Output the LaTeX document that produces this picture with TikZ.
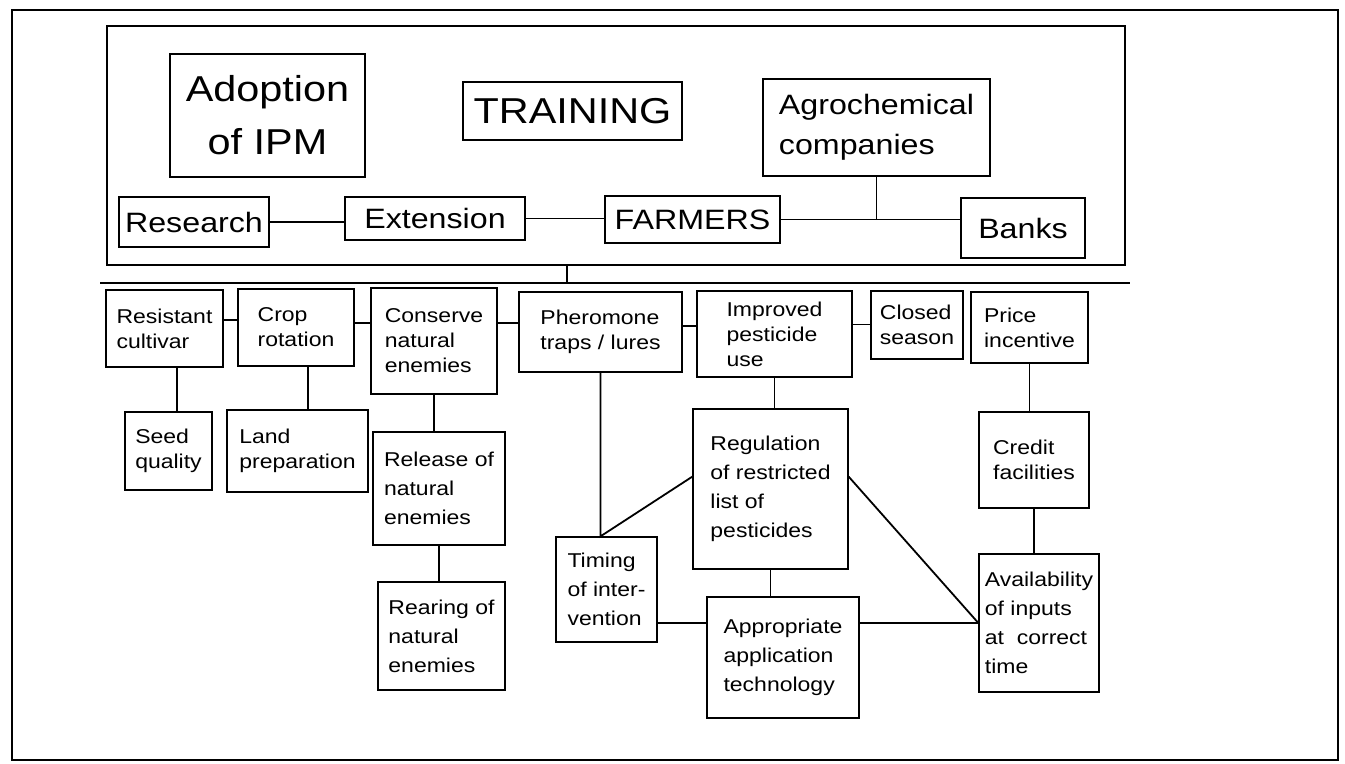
\documentclass[tikz,border=0pt]{standalone}
\usepackage{fontspec}
\setmainfont{Liberation Sans}[FakeStretch=1.15]
\tikzset{
  box/.style={draw, line width=0.65pt, align=left, inner sep=1.5pt,
    font=\fontsize{10}{12.5}\selectfont},
  loose/.style={font=\fontsize{10}{14.5}\selectfont},
  midbox/.style={box, align=center, inner sep=2pt, font=\fontsize{14}{20}\selectfont},
  bigbox/.style={box, align=center, inner sep=2pt, font=\fontsize{18}{26.5}\selectfont},
  sz/.style 2 args={minimum width=#1*0.5pt, minimum height=#2*0.5pt},
  link/.style={line width=0.9pt}
}
\begin{document}
\begin{tikzpicture}[x=0.5pt,y=-0.5pt]
\useasboundingbox (0,0) rectangle (1345,764);
\draw[line width=1.2pt] (12,10) rectangle (1338,760);

% upper panel
\node[draw, line width=0.7pt, sz={1018}{239}] (panel) at (616,145.5) {};
\node[bigbox, sz={195}{123}] (adopt) at (267.5,115.5) {Adoption\\of IPM};
\node[bigbox, sz={219}{58}] (training) at (572.5,111) {TRAINING};
\node[midbox, align=left, sz={227}{97}] (agro) at (876.5,127.5) {Agrochemical\\companies};
\node[midbox, sz={150}{50}] (research) at (194,222) {Research};
\node[midbox, sz={180}{43}] (extension) at (435,218.5) {Extension};
\node[midbox, sz={175}{47}] (farmers) at (692.5,219.5) {FARMERS};
\node[midbox, sz={124}{60}] (banks) at (1023,228) {Banks};
\foreach \a/\b in {research/extension, extension/farmers, farmers/banks}
  \draw[link] (\a.east) -- (\a.east -| \b.west);
\draw[link] (agro.south) -- (agro.south |- farmers.east);

% separator
\coordinate (sepW) at (100,283);
\coordinate (sepE) at (1130,283);
\coordinate (hub) at (567,283);
\draw[link] (sepW) -- (sepE);
\draw[link] (hub) -- (hub |- panel.south);

% measures
\node[box, sz={117}{77}] (resist) at (164.5,328.5) {Resistant\\cultivar};
\node[box, sz={116}{77}] (crop) at (296,327.5) {Crop\\rotation};
\node[box, sz={126}{106}] (conserve) at (434,341) {Conserve\\natural\\enemies};
\node[box, sz={163}{80}] (phero) at (600.5,332) {Pheromone\\traps / lures};
\node[box, sz={155}{86}] (improved) at (774.5,334) {Improved\\pesticide\\use};
\node[box, sz={92}{68}] (closed) at (917,325) {Closed\\season};
\node[box, sz={117}{71}] (price) at (1029.5,327.5) {Price\\incentive};
\foreach \a/\b/\ang in {resist/crop/8, crop/conserve/4, conserve/phero/16,
    phero/improved/4, improved/closed/7}
  \draw[link] (\a.\ang) -- (\a.\ang -| \b.west);

\node[box, sz={87}{78}] (seed) at (168.5,451) {Seed\\quality};
\node[box, sz={141}{82}] (land) at (297.5,451) {Land\\preparation};
\node[box, loose, sz={132}{113}] (release) at (439,488.5) {Release of\\natural\\enemies};
\node[box, loose, sz={127}{108}] (rearing) at (441.5,636) {Rearing of\\natural\\enemies};
\node[box, loose, sz={101}{105}] (timing) at (606.5,589.5) {Timing\\of inter-\\vention};
\node[box, loose, sz={155}{160}] (regulation) at (770.5,489) {Regulation\\of restricted\\list of\\pesticides};
\node[box, loose, sz={152}{121}] (appropriate) at (783,657.5) {Appropriate\\application\\technology};
\node[box, sz={110}{96}] (credit) at (1034,460) {Credit\\facilities};
\node[box, loose, sz={120}{138}] (availability) at (1039,623) {Availability\\of inputs\\at\ \ correct\\time};

\draw[link] (seed.78) -- (seed.78 |- resist.south);
\draw[link] (land.76) -- (land.76 |- crop.south);
\foreach \a/\b in {conserve/release, release/rearing, improved/regulation,
    regulation/appropriate, price/credit, credit/availability}
  \draw[link] (\a.south) -- (\a.south |- \b.north);
\draw[link] (phero.south) -- (phero.south |- timing.north) -- (regulation.171);
\draw[link] (regulation.9) -- (availability.west);
\draw[link] (timing.east |- availability.west) -- (appropriate.west |- availability.west);
\draw[link] (appropriate.east |- availability.west) -- (availability.west);
\end{tikzpicture}
\end{document}
